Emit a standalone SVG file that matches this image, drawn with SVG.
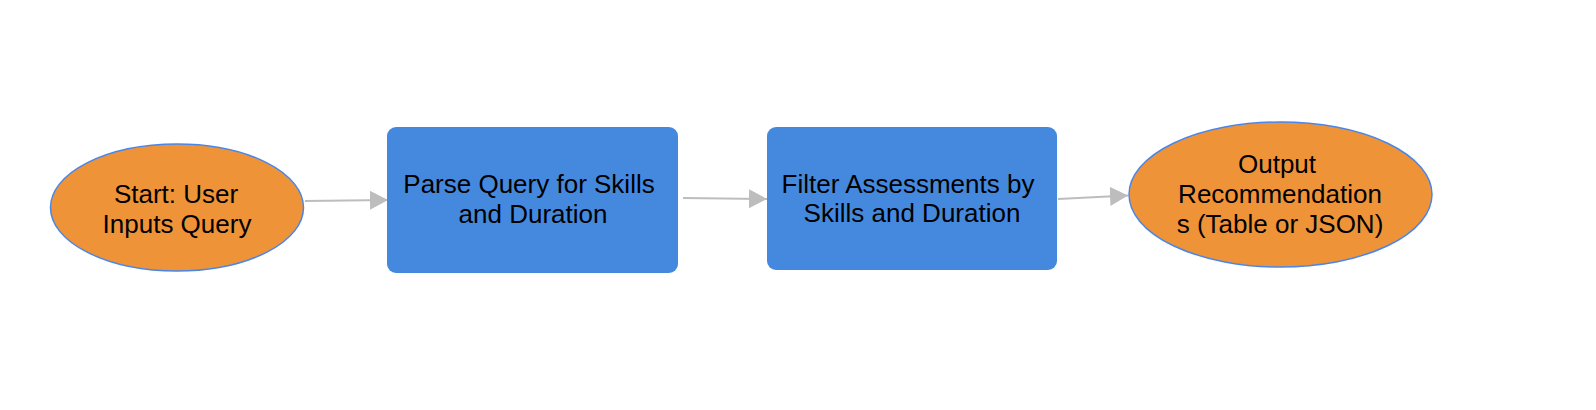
<svg xmlns="http://www.w3.org/2000/svg" width="1596" height="410" viewBox="0 0 1596 410">
<style>
.term{fill:#EF9338;stroke:#4A86E8;stroke-width:1.5}
.proc{fill:#4589DF;stroke:none}
.lbl{font-family:"Liberation Sans",Arial,sans-serif;font-size:26px;fill:#000;text-anchor:middle}
.conn{stroke:#BDBDBD;stroke-width:2;fill:none}
</style>
<defs>
<marker id="ah" markerWidth="18" markerHeight="19" refX="18" refY="9.5" orient="auto" markerUnits="userSpaceOnUse">
<path d="M0,0 L18,9.5 L0,19 Z" fill="#BDBDBD"/>
</marker>
</defs>
<rect width="1596" height="410" fill="#fff"/>
<g id="connectors">
<path class="conn" d="M305,201 L388,200" marker-end="url(#ah)"/>
<path class="conn" d="M683,198 L767,199" marker-end="url(#ah)"/>
<path class="conn" d="M1058,199 L1128,195.5" marker-end="url(#ah)"/>
</g>
<g id="start">
<ellipse class="term" cx="177" cy="207.5" rx="126.5" ry="63.5"/>
<text class="lbl" x="176" y="203">Start: User</text>
<text class="lbl" x="177" y="233">Inputs Query</text>
</g>
<g id="parse">
<rect class="proc" x="387" y="127" width="291" height="146" rx="9"/>
<text class="lbl" x="529" y="193">Parse Query for Skills</text>
<text class="lbl" x="533" y="223">and Duration</text>
</g>
<g id="filter">
<rect class="proc" x="767" y="127" width="290" height="143" rx="9"/>
<text class="lbl" x="908" y="193">Filter Assessments by</text>
<text class="lbl" x="912" y="222">Skills and Duration</text>
</g>
<g id="output">
<ellipse class="term" cx="1280.5" cy="194.5" rx="151.5" ry="72.5"/>
<text class="lbl" x="1277" y="173">Output</text>
<text class="lbl" x="1280" y="203">Recommendation</text>
<text class="lbl" x="1280" y="233">s (Table or JSON)</text>
</g>
</svg>
